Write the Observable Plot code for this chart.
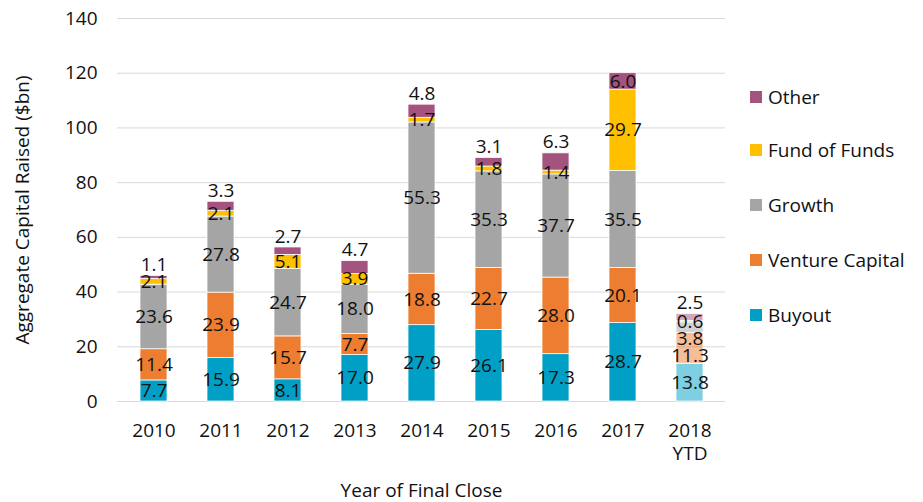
<!DOCTYPE html>
<html>
<head>
<meta charset="utf-8">
<script src="https://cdn.jsdelivr.net/npm/d3@7"></script>
<script src="https://cdn.jsdelivr.net/npm/@observablehq/plot@0.6"></script>
<style>
  html, body { margin: 0; padding: 0; background: #fff; }
  #wrap { position: relative; width: 923px; height: 502px; font-family: "Open Sans", sans-serif; }
  #legend { position: absolute; left: 750px; top: 0; }
  .item { position: absolute; left: 0; display: flex; align-items: center; white-space: nowrap; font-size: 19px; color: #111; transform: translateY(-50%); }
  .sw { width: 12px; height: 12px; margin-right: 6px; flex: none; }
</style>
</head>
<body>
<div id="wrap"><div id="legend"></div></div>
<script>
const years = ["2010", "2011", "2012", "2013", "2014", "2015", "2016", "2017", "2018 YTD"];
const buyout =         [7.7, 15.9, 8.1, 17.0, 27.9, 26.1, 17.3, 28.7, 13.8];
const ventureCapital = [11.4, 23.9, 15.7, 7.7, 18.8, 22.7, 28.0, 20.1, 11.3];
const growth =         [23.6, 27.8, 24.7, 18.0, 55.3, 35.3, 37.7, 35.5, 3.8];
const fundOfFunds =    [2.1, 2.1, 5.1, 3.9, 1.7, 1.8, 1.4, 29.7, 0.6];
const other =          [1.1, 3.3, 2.7, 4.7, 4.8, 3.1, 6.3, 6.0, 2.5];
const seriesNames = ["Buyout", "Venture Capital", "Growth", "Fund of Funds", "Other"];
const seriesColors = ["#00A0C6", "#ED7D31", "#A5A5A5", "#FFC000", "#A4527E"];
const yTicks = [0, 20, 40, 60, 80, 100, 120, 140];
const yTitle = "Aggregate Capital Raised ($bn)";
const xTitle = "Year of Final Close";
const partialYear = "2018 YTD";
const otherInside = ["2017"];

const seriesValues = [buyout, ventureCapital, growth, fundOfFunds, other];

const W = 923, H = 502;
const mTop = 18, mBottom = 101, mLeft = 117, mRight = 198;
const unitsPerPx = 140 / (H - mTop - mBottom);

const rows = [];
years.forEach((yr, i) => {
  seriesNames.forEach((s, j) => rows.push({year: yr, series: s, value: seriesValues[j][i]}));
});

// label positions: segment centres, pushed down from the top to avoid overlap
const labels = [];
years.forEach((yr, i) => {
  const vals = seriesValues.map(a => a[i]);
  let cum = 0;
  const centers = vals.map(v => { const c = cum + v / 2; cum += v; return c; });
  const total = cum;
  let prev;
  for (let j = vals.length - 1; j >= 0; j--) {
    let ly;
    if (j === vals.length - 1) ly = otherInside.includes(yr) ? centers[j] : total + 11 * unitsPerPx;
    else ly = Math.min(centers[j], prev - 17 * unitsPerPx);
    prev = ly;
    labels.push({year: yr, value: vals[j], ly});
  }
});

const chart = Plot.plot({
  width: W, height: H,
  marginTop: mTop, marginBottom: mBottom, marginLeft: mLeft, marginRight: mRight,
  style: {fontFamily: "'Open Sans', sans-serif", fontSize: "19px", color: "#111", background: "transparent"},
  x: {domain: years, paddingInner: 0.6, paddingOuter: 0.3, label: null},
  y: {domain: [0, 140], label: null},
  color: {domain: seriesNames, range: seriesColors},
  marks: [
    Plot.gridY(yTicks, {stroke: "#d9d9d9", strokeOpacity: 1}),
    Plot.ruleY([0], {stroke: "#d9d9d9"}),
    Plot.barY(rows, {
      x: "year", y: "value", fill: "series", order: seriesNames,
      fillOpacity: d => d.year === partialYear ? 0.5 : 1,
      stroke: "white", strokeWidth: 0.75
    }),
    Plot.text(labels, {x: "year", y: "ly", text: d => d.value.toFixed(1), fontSize: 19, fill: "#111"}),
    Plot.axisY({ticks: yTicks, tickSize: 0, tickPadding: 20, label: null, fontSize: 19}),
    Plot.axisX({tickSize: 0, tickPadding: 18, label: null, fontSize: 19, lineHeight: 1.26,
      tickFormat: d => d.replace(" ", "\n")}),
    Plot.text([xTitle], {frameAnchor: "bottom", dy: 89, fontSize: 19, fill: "#111", lineAnchor: "middle"}),
    Plot.text([yTitle], {frameAnchor: "left", dx: -95, rotate: -90, textAnchor: "middle", lineAnchor: "middle", fontSize: 19, fill: "#111"})
  ]
});
document.getElementById("wrap").prepend(chart);

const legendY = [315, 260, 205, 150, 97];
const legend = document.getElementById("legend");
seriesNames.forEach((s, j) => {
  const it = document.createElement("div");
  it.className = "item";
  it.style.top = legendY[j] + "px";
  const sw = document.createElement("span");
  sw.className = "sw";
  sw.style.background = seriesColors[j];
  it.appendChild(sw);
  it.appendChild(document.createTextNode(s));
  legend.appendChild(it);
});
</script>
</body>
</html>
